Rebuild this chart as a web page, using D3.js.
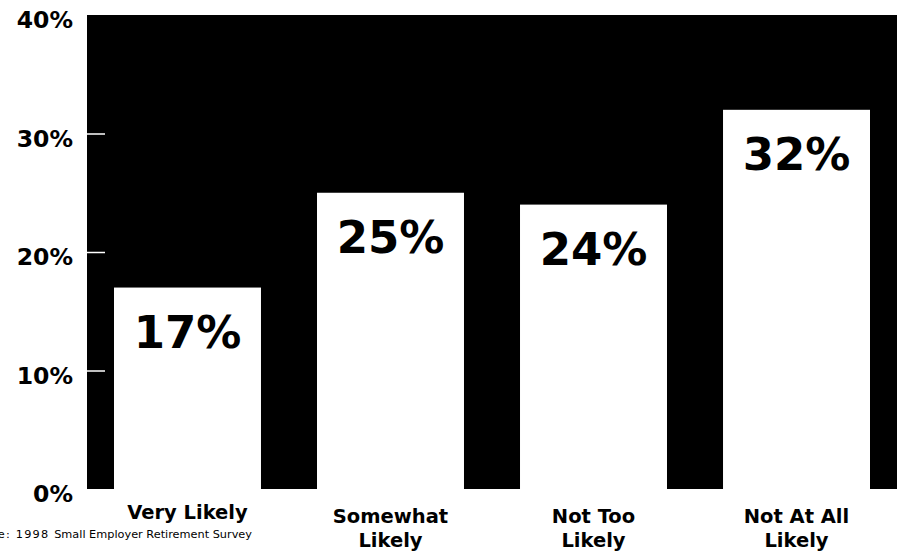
<!DOCTYPE html>
<html>
<head>
<meta charset="utf-8">
<script src="https://cdn.jsdelivr.net/npm/d3@7/dist/d3.min.js"></script>
<style>
  html, body { margin: 0; padding: 0; background: #fff; }
  svg { display: block; }
  text { font-family: "DejaVu Sans", sans-serif; }
</style>
</head>
<body>
<svg id="chart" width="897" height="555"></svg>
<script>
// Likelihood categories and the share of respondents in each
const categories = ["Very Likely", "Somewhat Likely", "Not Too Likely", "Not At All Likely"];
const categoryLines = [["Very Likely"], ["Somewhat", "Likely"], ["Not Too", "Likely"], ["Not At All", "Likely"]];
const shares = [17, 25, 24, 32];
const yTicks = [0, 10, 20, 30, 40];
const sourceParts = ["Source: 1998 ", "Small Employer Retirement Survey"];

const svg = d3.select("#chart");
const W = 897, H = 555;
const plot = { left: 87, right: 897, top: 15, bottom: 489 };

const x = d3.scaleBand()
  .domain(categories)
  .range([plot.left, plot.right])
  .paddingInner(0.276)
  .paddingOuter(0.133);

const y = d3.scaleLinear()
  .domain([0, 40])
  .range([plot.bottom, plot.top]);

// Black backdrop of the plot, running off the right edge
svg.append("rect")
  .attr("x", plot.left)
  .attr("y", y(40))
  .attr("width", W - plot.left)
  .attr("height", y(0) - y(40))
  .attr("fill", "#000");

// White bars cut out of the backdrop
svg.append("g").selectAll("rect")
  .data(shares)
  .join("rect")
  .attr("x", (d, i) => x(categories[i]))
  .attr("y", d => y(d))
  .attr("width", x.bandwidth())
  .attr("height", d => y(0) - y(d))
  .attr("fill", "#fff");

// Value labels inside the bars
svg.append("g").selectAll("text")
  .data(shares)
  .join("text")
  .attr("x", (d, i) => x(categories[i]) + x.bandwidth() / 2)
  .attr("y", d => y(d) + 60)
  .attr("text-anchor", "middle")
  .attr("font-size", 45)
  .attr("font-weight", 700)
  .attr("fill", "#000")
  .text(d => d + "%");

// Y axis: percent labels outside, short white ticks inside the backdrop
const yAxis = d3.axisLeft(y)
  .tickValues(yTicks)
  .tickFormat(d => d + "%")
  .tickSizeInner(-18)
  .tickSizeOuter(0)
  .tickPadding(14);

const ax = svg.append("g")
  .attr("transform", `translate(${plot.left},0)`)
  .call(yAxis);
ax.select(".domain").remove();
ax.selectAll(".tick line")
  .attr("stroke", "#fff")
  .attr("stroke-width", 1.5)
  .attr("opacity", d => (d > 0 && d < 40) ? 1 : 0);
ax.selectAll(".tick text")
  .attr("font-family", "DejaVu Sans, sans-serif")
  .attr("font-size", 23.5)
  .attr("font-weight", 700)
  .attr("fill", "#000")
  .attr("dy", "0.55em");

// Category labels below the bars
const catG = svg.append("g").selectAll("text")
  .data(categoryLines)
  .join("text")
  .attr("x", (d, i) => x(categories[i]) + x.bandwidth() / 2)
  .attr("y", d => d.length === 1 ? 519 : 523)
  .attr("text-anchor", "middle")
  .attr("font-size", 19.5)
  .attr("font-weight", 700)
  .attr("fill", "#000");
catG.selectAll("tspan")
  .data(d => d)
  .join("tspan")
  .attr("x", function () { return d3.select(this.parentNode).attr("x"); })
  .attr("dy", (d, i) => i === 0 ? 0 : 24)
  .text(d => d);

// Source note at the bottom left, running off the left edge
svg.append("text")
  .attr("x", 252)
  .attr("y", 538)
  .attr("text-anchor", "end")
  .attr("font-family", "Liberation Sans, sans-serif")
  .attr("font-size", 11.3)
  .attr("fill", "#000")
  .selectAll("tspan")
  .data(sourceParts)
  .join("tspan")
  .attr("letter-spacing", (d, i) => i === 0 ? 1.2 : 0)
  .text(d => d);
</script>
</body>
</html>
